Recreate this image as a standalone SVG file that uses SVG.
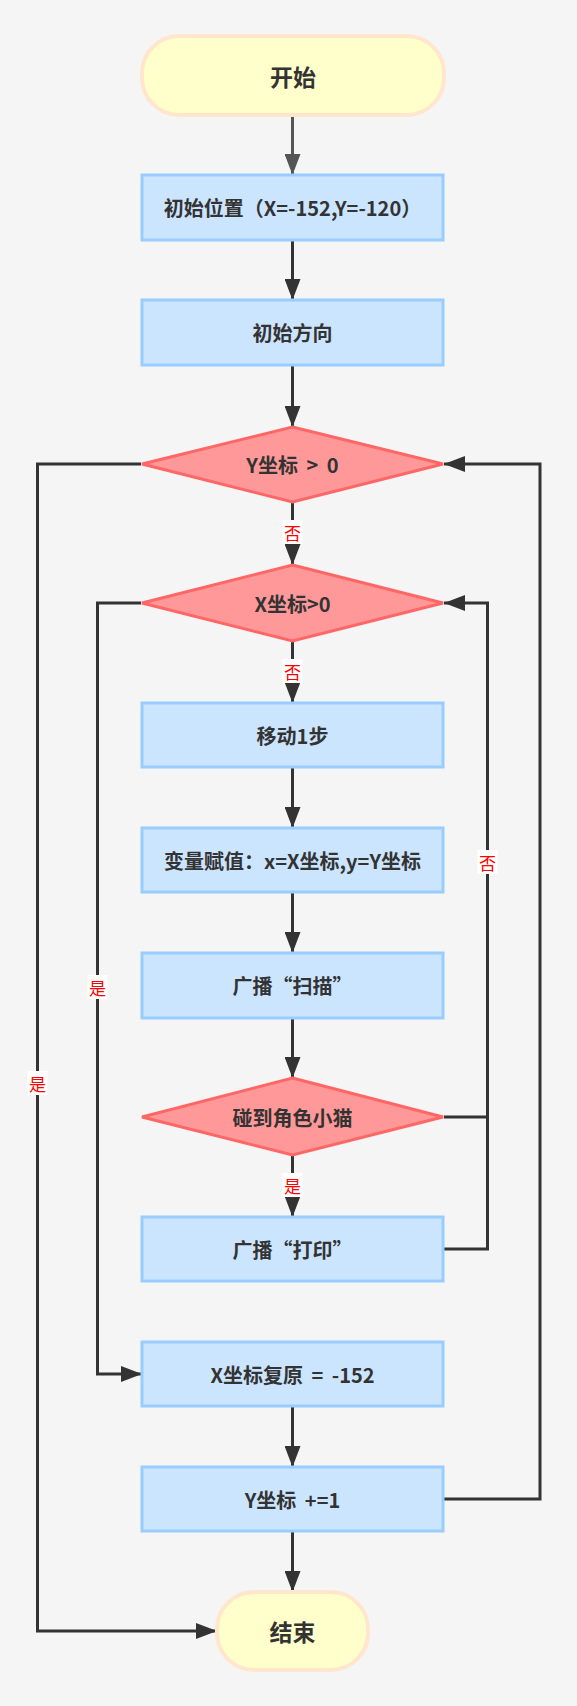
<svg xmlns="http://www.w3.org/2000/svg" width="577" height="1706" viewBox="0 0 577 1706">
<defs>
<style>
.term{fill:#FFFFCC;stroke:#FFE6CC;stroke-width:4}
.box{fill:#CCE5FF;stroke:#99CCFF;stroke-width:3}
.dia{fill:#FF9999;stroke:#FF6666;stroke-width:3}
.t{font-family:"Noto Sans CJK SC","Noto Sans",sans-serif;font-weight:bold;fill:#333333;font-size:20px;text-anchor:middle;dominant-baseline:central;word-spacing:4px}
.tt{font-size:23px}
.ln{fill:none;stroke:#333333;stroke-width:3}
.lb{font-family:"Noto Sans CJK SC",sans-serif;fill:#FF0000;font-size:17px;text-anchor:middle;dominant-baseline:central}
.lbg{fill:#FFFFFF}
</style>
<marker id="ah" markerUnits="userSpaceOnUse" markerWidth="22" markerHeight="16" refX="21" refY="8" orient="auto">
<path d="M0,0 L21,8 L0,16 z" fill="#333333"/>
</marker>
<marker id="ahg" markerUnits="userSpaceOnUse" markerWidth="22" markerHeight="16" refX="21" refY="8" orient="auto">
<path d="M0,0 L21,8 L0,16 z" fill="#555555"/>
</marker>
</defs>
<rect x="0" y="0" width="577" height="1706" fill="#F5F5F5"/>

<g id="connectors">
<line x1="292.5" y1="117" x2="292.5" y2="175" stroke="#555555" stroke-width="3" marker-end="url(#ahg)"/>
<line class="ln" x1="292.5" y1="241" x2="292.5" y2="300" marker-end="url(#ah)"/>
<line class="ln" x1="292.5" y1="366" x2="292.5" y2="427" marker-end="url(#ah)"/>
<line class="ln" x1="292.5" y1="503" x2="292.5" y2="565" marker-end="url(#ah)"/>
<line class="ln" x1="292.5" y1="642" x2="292.5" y2="703" marker-end="url(#ah)"/>
<line class="ln" x1="292.5" y1="768" x2="292.5" y2="828" marker-end="url(#ah)"/>
<line class="ln" x1="292.5" y1="893" x2="292.5" y2="953" marker-end="url(#ah)"/>
<line class="ln" x1="292.5" y1="1019" x2="292.5" y2="1078" marker-end="url(#ah)"/>
<line class="ln" x1="292.5" y1="1156" x2="292.5" y2="1217" marker-end="url(#ah)"/>
<line class="ln" x1="292.5" y1="1407" x2="292.5" y2="1467" marker-end="url(#ah)"/>
<line class="ln" x1="292.5" y1="1532" x2="292.5" y2="1592" marker-end="url(#ah)"/>
<polyline class="ln" points="444,1249 487.5,1249 487.5,603 444,603" marker-end="url(#ah)"/>
<polyline class="ln" points="444,1117 487.5,1117"/>
<polyline class="ln" points="141,603 97.5,603 97.5,1374 142,1374" marker-end="url(#ah)"/>
<polyline class="ln" points="444,1499 540,1499 540,464 444,464" marker-end="url(#ah)"/>
<polyline class="ln" points="141,464 37.5,464 37.5,1631 217,1631" marker-end="url(#ah)"/>
<g>
<rect class="lbg" x="282.5" y="520" width="20" height="24"/>
<text class="lb" x="292.5" y="532">否</text>
<rect class="lbg" x="282.5" y="659" width="20" height="24"/>
<text class="lb" x="292.5" y="671">否</text>
<rect class="lbg" x="477.5" y="850" width="20" height="24"/>
<text class="lb" x="487.5" y="862">否</text>
<rect class="lbg" x="282.5" y="1173" width="20" height="24"/>
<text class="lb" x="292.5" y="1185">是</text>
<rect class="lbg" x="87.5" y="975" width="20" height="24"/>
<text class="lb" x="97.5" y="987">是</text>
<rect class="lbg" x="27.5" y="1071" width="20" height="24"/>
<text class="lb" x="37.5" y="1083">是</text>
</g>
</g>

<g id="start">
<rect class="term" x="142" y="36" width="302" height="79" rx="37" ry="37"/>
<text class="t tt" x="293" y="75.5">开始</text>
</g>
<g id="init-pos">
<rect class="box" x="142" y="175" width="301" height="65"/>
<text class="t" x="292.5" y="207.5">初始位置（X=-152,Y=-120）</text>
</g>
<g id="init-dir">
<rect class="box" x="142" y="300" width="301" height="65"/>
<text class="t" x="292.5" y="332.5">初始方向</text>
</g>
<g id="cond-y">
<polygon class="dia" points="292.5,427 443,464 292.5,502 142,464"/>
<text class="t" x="292.5" y="464">Y坐标 &gt; 0</text>
</g>
<g id="cond-x">
<polygon class="dia" points="292.5,565 443,603 292.5,641 142,603"/>
<text class="t" x="292.5" y="603">X坐标&gt;0</text>
</g>
<g id="move">
<rect class="box" x="142" y="703" width="301" height="64"/>
<text class="t" x="292.5" y="735">移动1步</text>
</g>
<g id="assign">
<rect class="box" x="142" y="828" width="301" height="64"/>
<text class="t" x="292.5" y="860">变量赋值：x=X坐标,y=Y坐标</text>
</g>
<g id="bcast-scan">
<rect class="box" x="142" y="953" width="301" height="65"/>
<text class="t" x="292.5" y="985.5">广播“扫描”</text>
</g>
<g id="cond-cat">
<polygon class="dia" points="292.5,1078 443,1117 292.5,1155 142,1117"/>
<text class="t" x="292.5" y="1117">碰到角色小猫</text>
</g>
<g id="bcast-print">
<rect class="box" x="142" y="1217" width="301" height="64"/>
<text class="t" x="292.5" y="1249">广播“打印”</text>
</g>
<g id="reset-x">
<rect class="box" x="142" y="1342" width="301" height="64"/>
<text class="t" x="292.5" y="1374">X坐标复原 = -152</text>
</g>
<g id="inc-y">
<rect class="box" x="142" y="1467" width="301" height="64"/>
<text class="t" x="292.5" y="1499">Y坐标 +=1</text>
</g>
<g id="end">
<rect class="term" x="217" y="1592" width="151" height="78" rx="37" ry="37"/>
<text class="t tt" x="292.5" y="1631">结束</text>
</g>
</svg>
